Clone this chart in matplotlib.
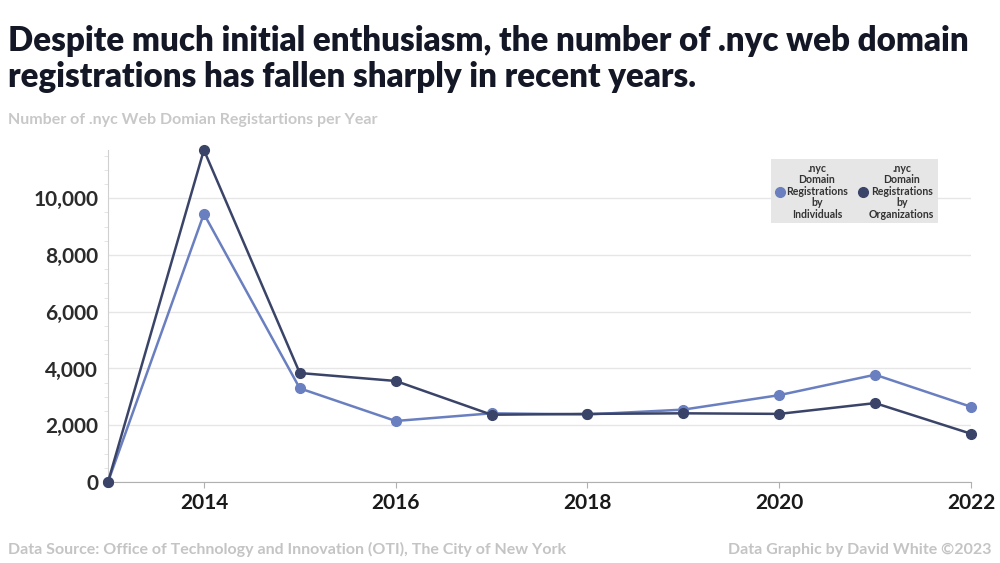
import matplotlib.pyplot as plt
from matplotlib.ticker import FuncFormatter, MultipleLocator
from matplotlib.lines import Line2D

years = [2013, 2014, 2015, 2016, 2017, 2018, 2019, 2020, 2021, 2022]
individuals = [0, 9450, 3300, 2150, 2420, 2380, 2550, 3060, 3780, 2650]
organizations = [0, 11700, 3840, 3560, 2370, 2400, 2420, 2400, 2780, 1700]

c_ind = '#6a7fc0'
c_org = '#3a4468'

plt.rcParams['font.family'] = ['Lato', 'DejaVu Sans']

fig = plt.figure(figsize=(10, 5.63), dpi=100)
ax = fig.add_axes([0.108, 0.1439, 0.863, 0.5897])

ax.plot(years, individuals, color=c_ind, lw=1.8, marker='o', ms=7, zorder=3, clip_on=False)
ax.plot(years, organizations, color=c_org, lw=1.8, marker='o', ms=7, zorder=4, clip_on=False)

ax.set_xlim(2013, 2022)
ax.set_ylim(0, 11700)
ax.set_xticks([2014, 2016, 2018, 2020, 2022])
ax.set_yticks([0, 2000, 4000, 6000, 8000, 10000])
ax.yaxis.set_minor_locator(MultipleLocator(500))
ax.yaxis.set_major_formatter(FuncFormatter(lambda v, p: f'{int(v):,}'))
ax.grid(axis='y', color='#e6e6e6', lw=1)
ax.set_axisbelow(True)
for s in ['top', 'right']:
    ax.spines[s].set_visible(False)
ax.spines['left'].set_color('#d0d0d0')
ax.spines['bottom'].set_color('#b0b0b0')
ax.tick_params(axis='y', which='major', length=0, pad=7, labelsize=15, labelcolor='#2b2b2b')
ax.tick_params(axis='y', which='minor', length=3, color='#e0e0e0')
ax.tick_params(axis='x', length=4, color='#b0b0b0', pad=4, labelsize=15, labelcolor='#1a1a1a')
for lab in ax.get_xticklabels() + ax.get_yticklabels():
    lab.set_fontweight('bold')

handles = [Line2D([], [], color=c_ind, marker='o', ls='', ms=7),
           Line2D([], [], color=c_org, marker='o', ls='', ms=7)]
labels = ['.nyc\nDomain\nRegistrations\nby\nIndividuals',
          '.nyc\nDomain\nRegistrations\nby\nOrganizations']
leg = ax.legend(handles, labels, ncol=2, loc='upper right', bbox_to_anchor=(0.968, 0.988),
                frameon=True, fancybox=False, facecolor='#e6e6e6', edgecolor='none',
                prop={'size': 7.6, 'weight': 'bold'}, handletextpad=0.1, columnspacing=0.9,
                borderpad=0.35, handlelength=1.0, labelspacing=0.3)
leg.get_frame().set_alpha(1)
for t in leg.get_texts():
    t.set_multialignment('center')
    t.set_color('#333333')
    t.set_linespacing(1.05)

fig.text(0.008, 0.955, 'Despite much initial enthusiasm, the number of .nyc web domain\n'
         'registrations has fallen sharply in recent years.',
         fontsize=23.8, fontweight='heavy', color='#141826', va='top', linespacing=1.15)
fig.text(0.008, 0.787, 'Number of .nyc Web Domian Registartions per Year',
         fontsize=11.5, fontweight='bold', color='#c8c8c8', va='center')
fig.text(0.008, 0.024, 'Data Source: Office of Technology and Innovation (OTI), The City of New York',
         fontsize=11.5, fontweight='bold', color='#c4c4c4', va='center')
fig.text(0.992, 0.024, 'Data Graphic by David White \u00a92023',
         fontsize=11.5, fontweight='bold', color='#c4c4c4', va='center', ha='right')

fig.savefig('out.png', dpi=100)
